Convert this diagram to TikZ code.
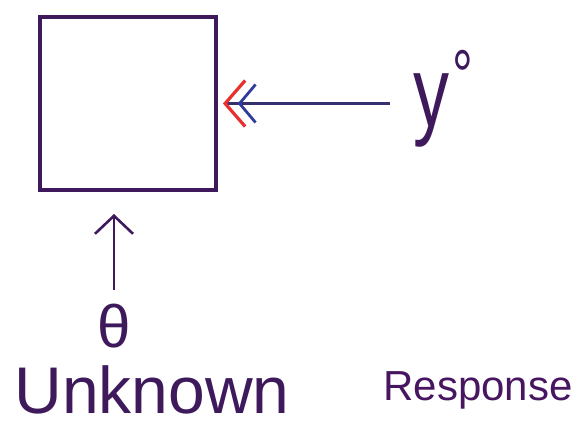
\documentclass[tikz,border=0pt]{standalone}
\usepackage{fontspec}
\setmainfont{Liberation Sans}
\usetikzlibrary{positioning, arrows.meta}

\definecolor{ink}{HTML}{3E1A5C}
\definecolor{pen}{HTML}{35306E}
\definecolor{tipred}{HTML}{E8302F}
\definecolor{tipblue}{HTML}{2F3C9A}

\begin{document}
\begin{tikzpicture}[x=1pt, y=-1pt,
    block/.style={rectangle, draw=ink, line width=4pt, minimum width=176pt,
                  minimum height=173pt},
    arrow/.style={-{Straight Barb[length=18pt, width=38pt, line width=2.6pt]}, line width=2.6pt},
    word/.style={text=ink, inner sep=0pt}
]
    \useasboundingbox (0,0) rectangle (584,429);

    % === Plant block ===
    \node[block] (sys) at (128, 103.5) {};

    % === Output side ===
    \node[word, font=\fontsize{100}{100}\selectfont, xscale=0.72, anchor=base west] (yo) at (413, 126)
        {y\hspace{4pt}\raisebox{26pt}{\fontsize{72}{72}\selectfont °}};
    \draw[pen, line width=2.4pt, shorten <=23pt, shorten >=14pt,
          -{Straight Barb[tipblue, length=16pt, width=38pt, line width=2.8pt, sep=-9pt]
            Straight Barb[tipred, length=20pt, width=46pt, line width=3.2pt, sep=-9pt]}]
        (yo.west |- sys.east) -- (sys.east);

    % === Parameter input ===
    \node[word, font=\fontsize{60}{60}\selectfont] (theta) at (114, 326) {θ};
    \draw[arrow, ink, shorten <=14pt, shorten >=22pt]
        (theta.north) -- (theta.north |- sys.south);

    % Labels
    \node[word, font=\fontsize{66}{66}\selectfont] (unknown) at (152, 390) {Unknown};
    \node[word, text=ink!85!violet, font=\fontsize{42}{42}\selectfont] (response) at (478, 390) {Response};

\end{tikzpicture}
\end{document}
